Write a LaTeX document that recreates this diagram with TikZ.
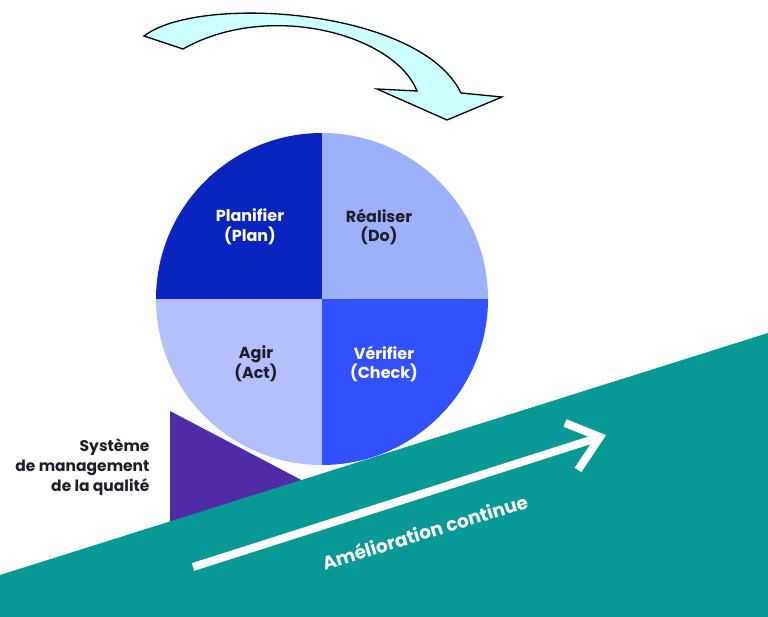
\documentclass[tikz,border=0pt]{standalone}
\usepackage{fontspec}
\setmainfont{Poppins}
\definecolor{plancol}{RGB}{10,36,192}
\definecolor{docol}{RGB}{156,177,250}
\definecolor{actcol}{RGB}{179,192,249}
\definecolor{checkcol}{RGB}{51,80,254}
\definecolor{triangcol}{RGB}{80,44,168}
\definecolor{rampcol}{RGB}{8,152,150}
\definecolor{cyclecol}{RGB}{204,255,255}
\definecolor{inkcol}{RGB}{30,30,42}
\begin{document}
\begin{tikzpicture}[x=1pt,y=-1pt,
  quadlbl/.style={font=\bfseries\fontsize{16}{19.5}\selectfont, align=center},
  sidelbl/.style={font=\bfseries\fontsize{15.5}{20}\selectfont, align=right, text=inkcol, anchor=east},
  ramparrow/.style={draw=white, line width=8pt, line join=miter}]
\useasboundingbox (0,0) rectangle (768,617);

% curved cycle arrow on top
\draw[fill=cyclecol, line width=1.3pt, line join=miter]
  (144,36) .. controls (198,-6) and (420,8) .. (461,93)
  -- (502,97) -- (447,120) -- (377,89) -- (417,91)
  .. controls (395,35) and (270,0) .. (183,49) -- cycle;

% quality system wedge
\fill[triangcol] (170,411) -- (330,495) -- (170,545) -- cycle;

% PDCA wheel
\coordinate (c) at (322,299);
\begin{scope}
  \clip (c) circle (166pt);
  \fill[plancol]  (150,125) rectangle (c);
  \fill[docol]    (494,125) rectangle (c);
  \fill[actcol]   (150,470) rectangle (c);
  \fill[checkcol] (494,470) rectangle (c);
\end{scope}

% continuous improvement ramp
\fill[rampcol] (0,575) -- (768,333) -- (768,617) -- (0,617) -- cycle;

% arrow on the ramp
\coordinate (tail) at (193,567);
\coordinate (tip) at (600,437);
\coordinate (barbup) at (565,423);
\coordinate (barblow) at (578,470);
\draw[ramparrow] (tail) -- (tip);
\draw[ramparrow] (barbup) -- (tip) -- (barblow);

% labels
\node[quadlbl, text=white]   (plan)  at (250,227) {Planifier\\(Plan)};
\node[quadlbl, text=inkcol]  (do)    at (379,227) {Réaliser\\(Do)};
\node[quadlbl, text=inkcol]  (act)   at (256,364) {Agir\\(Act)};
\node[quadlbl, text=white]   (check) at (384,364) {Vérifier\\(Check)};
\node[sidelbl] (qms) at (153,467) {Système\\de management\\de la qualité};
\node[font=\bfseries\fontsize{18.5}{20}\selectfont, text=white, rotate=17, anchor=base]
  (improve) at (427,539) {Amélioration continue};
\end{tikzpicture}
\end{document}
